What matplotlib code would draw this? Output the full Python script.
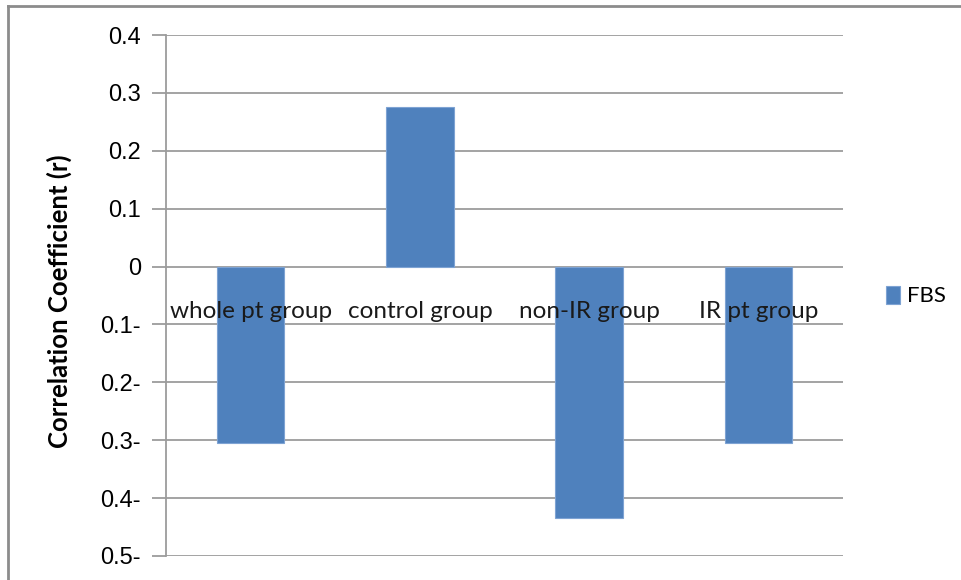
import matplotlib.pyplot as plt
from matplotlib.lines import Line2D
import numpy as np

categories = ["whole pt group", "control group", "non-IR group", "IR pt group"]
fbs_r = [-0.305, 0.275, -0.435, -0.305]
series_name = "FBS"

ytick_values = [0.4, 0.3, 0.2, 0.1, 0.0, -0.1, -0.2, -0.3, -0.4, -0.5]
ytick_labels = ["0.4", "0.3", "0.2", "0.1", "0", "0.1-", "0.2-", "0.3-", "0.4-", "0.5-"]

BAR_COLOR = "#4F81BD"
GRID_COLOR = "#9C9C9C"

fig = plt.figure(figsize=(9.62, 5.80), dpi=100)
ax = fig.add_axes([166 / 962, 24 / 580, 677 / 962, 521 / 580])

x = np.arange(len(categories))
bars = ax.bar(x, fbs_r, width=0.4, color=BAR_COLOR, edgecolor="#7EA3D3",
              linewidth=0.8, zorder=3, label=series_name)

ax.set_xlim(-0.5, len(categories) - 0.5)
ax.set_ylim(-0.5, 0.4)
ax.set_yticks(ytick_values)
ax.set_yticklabels(ytick_labels, fontsize=17, family="Liberation Sans")
ax.set_xticks([])

ax.grid(axis="y", color=GRID_COLOR, linewidth=1.3, zorder=0)
ax.tick_params(axis="y", length=10, width=1.3, color=GRID_COLOR, pad=8)

for side in ["top", "right", "bottom"]:
    ax.spines[side].set_visible(False)
ax.spines["left"].set_color(GRID_COLOR)
ax.spines["left"].set_linewidth(1.3)

for xi, name in zip(x, categories):
    ax.text(xi, -0.078, name, ha="center", va="center", fontsize=17.5,
            family="Lato", color="#1a1a1a", zorder=4)

ax.set_ylabel("Correlation Coefficient (r)", fontsize=18.5, fontweight="bold",
              family="Lato")
ax.yaxis.set_label_coords(-0.139, 0.49)

leg = fig.legend(handles=[bars], labels=[series_name], loc="center left",
                 bbox_to_anchor=(866 / 962, 1 - 296 / 580), frameon=False,
                 prop={"family": "Lato", "size": 16}, handlelength=0.65,
                 handleheight=0.9, handletextpad=0.3)

# chart area border (top and left visible)
fig.add_artist(Line2D([8 / 962, 1.0], [1 - 6 / 580, 1 - 6 / 580],
                      color="#8C8C8C", linewidth=2, transform=fig.transFigure))
fig.add_artist(Line2D([8 / 962, 8 / 962], [0.0, 1 - 6 / 580],
                      color="#8C8C8C", linewidth=2, transform=fig.transFigure))

fig.savefig("out.png", dpi=100)
plt.close(fig)
